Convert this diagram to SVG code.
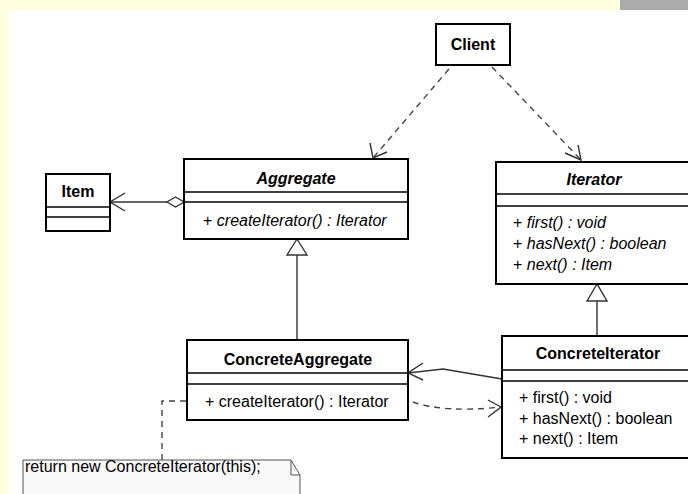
<svg xmlns="http://www.w3.org/2000/svg" width="688" height="494" viewBox="0 0 688 494">
<defs>
<style>
.box{fill:#fff;stroke:#000;stroke-width:2}
.div{stroke:#000;stroke-width:1.4}
.t{font-family:"Liberation Sans",Arial,sans-serif;font-size:16px;fill:#000}
.b{font-weight:bold}
.i{font-style:italic}
.ln{fill:none;stroke:#333;stroke-width:1.4}
.dash{fill:none;stroke:#444;stroke-width:1.4;stroke-dasharray:6 5}
.head{fill:none;stroke:#333;stroke-width:1.4}
.tri{fill:#fff;stroke:#333;stroke-width:1.4}
</style>
</defs>
<rect x="0" y="0" width="688" height="494" fill="#ffffe0"/>
<rect x="9" y="10" width="679" height="484" fill="#fff"/>
<rect x="620" y="0" width="68" height="10" fill="#ababab"/>

<g id="connectors">
<!-- Client to Aggregate -->
<path class="dash" d="M449 69 L373 158"/>
<path class="head" d="M370 143 L373 158 L387 152"/>
<!-- Client to Iterator -->
<path class="dash" d="M492 67 L581 160"/>
<path class="head" d="M565 153 L581 160 L578 145"/>
<!-- Aggregation Aggregate -> Item -->
<path class="ln" d="M167 202 L110 202"/>
<path class="tri" d="M184 202 L175.5 197 L167 202 L175.5 207 Z"/>
<path class="head" d="M125 193 L110 202 L125 211"/>
<!-- ConcreteAggregate generalization -->
<path class="ln" d="M297 340 L297 255"/>
<path class="tri" d="M297 239 L287 255 L307 255 Z"/>
<!-- ConcreteIterator generalization -->
<path class="ln" d="M597 336 L597 301"/>
<path class="tri" d="M597 284 L587 301 L607 301 Z"/>
<!-- ConcreteIterator -> ConcreteAggregate association -->
<path class="ln" d="M502 379 L443 369 L408 373"/>
<path class="head" d="M423 363 L408 373 L423 380"/>
<!-- ConcreteAggregate -> ConcreteIterator dependency -->
<path class="dash" d="M413 402 Q445 413 501 407"/>
<path class="head" d="M488 400 L501 407 L488 417"/>
<!-- note link -->
<path class="dash" d="M186 401 L162 401 L162 460"/>
</g>

<g id="client">
<rect class="box" x="436" y="24" width="74" height="41"/>
<text class="t b" x="473" y="50" text-anchor="middle">Client</text>
</g>

<g id="item">
<rect class="box" x="46" y="174" width="64" height="57"/>
<line class="div" x1="46" y1="207" x2="110" y2="207"/>
<line class="div" x1="46" y1="217" x2="110" y2="217"/>
<text class="t b" x="78" y="197" text-anchor="middle">Item</text>
</g>

<g id="aggregate">
<rect class="box" x="184" y="159" width="224" height="80"/>
<line class="div" x1="184" y1="192" x2="408" y2="192"/>
<line class="div" x1="184" y1="202" x2="408" y2="202"/>
<text class="t b i" x="296" y="184" text-anchor="middle">Aggregate</text>
<text class="t" x="203" y="226">+ <tspan class="i">createIterator() : Iterator</tspan></text>
</g>

<g id="iterator">
<rect class="box" x="496" y="162" width="200" height="122"/>
<line class="div" x1="496" y1="194" x2="696" y2="194"/>
<line class="div" x1="496" y1="206" x2="696" y2="206"/>
<text class="t b i" x="594" y="185" text-anchor="middle">Iterator</text>
<text class="t" x="513" y="228">+ <tspan class="i">first() : void</tspan></text>
<text class="t" x="513" y="249">+ <tspan class="i">hasNext() : boolean</tspan></text>
<text class="t" x="513" y="270">+ <tspan class="i">next() : Item</tspan></text>
</g>

<g id="concreteAggregate">
<rect class="box" x="187" y="340" width="221" height="80"/>
<line class="div" x1="187" y1="373" x2="408" y2="373"/>
<line class="div" x1="187" y1="384" x2="408" y2="384"/>
<text class="t b" x="298" y="365" text-anchor="middle">ConcreteAggregate</text>
<text class="t" x="205" y="407">+ createIterator() : Iterator</text>
</g>

<g id="concreteIterator">
<rect class="box" x="502" y="336" width="194" height="122"/>
<line class="div" x1="502" y1="370" x2="696" y2="370"/>
<line class="div" x1="502" y1="381" x2="696" y2="381"/>
<text class="t b" x="598" y="359" text-anchor="middle">ConcreteIterator</text>
<text class="t" x="519" y="403">+ first() : void</text>
<text class="t" x="519" y="424">+ hasNext() : boolean</text>
<text class="t" x="519" y="444">+ next() : Item</text>
</g>

<g id="note">
<path d="M23 460 L291 460 L300 475 L300 500 L23 500 Z" fill="#f8f8f8" stroke="#555" stroke-width="1"/>
<path d="M291 460 L291 475 L300 475" fill="none" stroke="#555" stroke-width="1"/>
<text class="t" x="25" y="472">return new ConcreteIterator(this);</text>
</g>
</svg>
